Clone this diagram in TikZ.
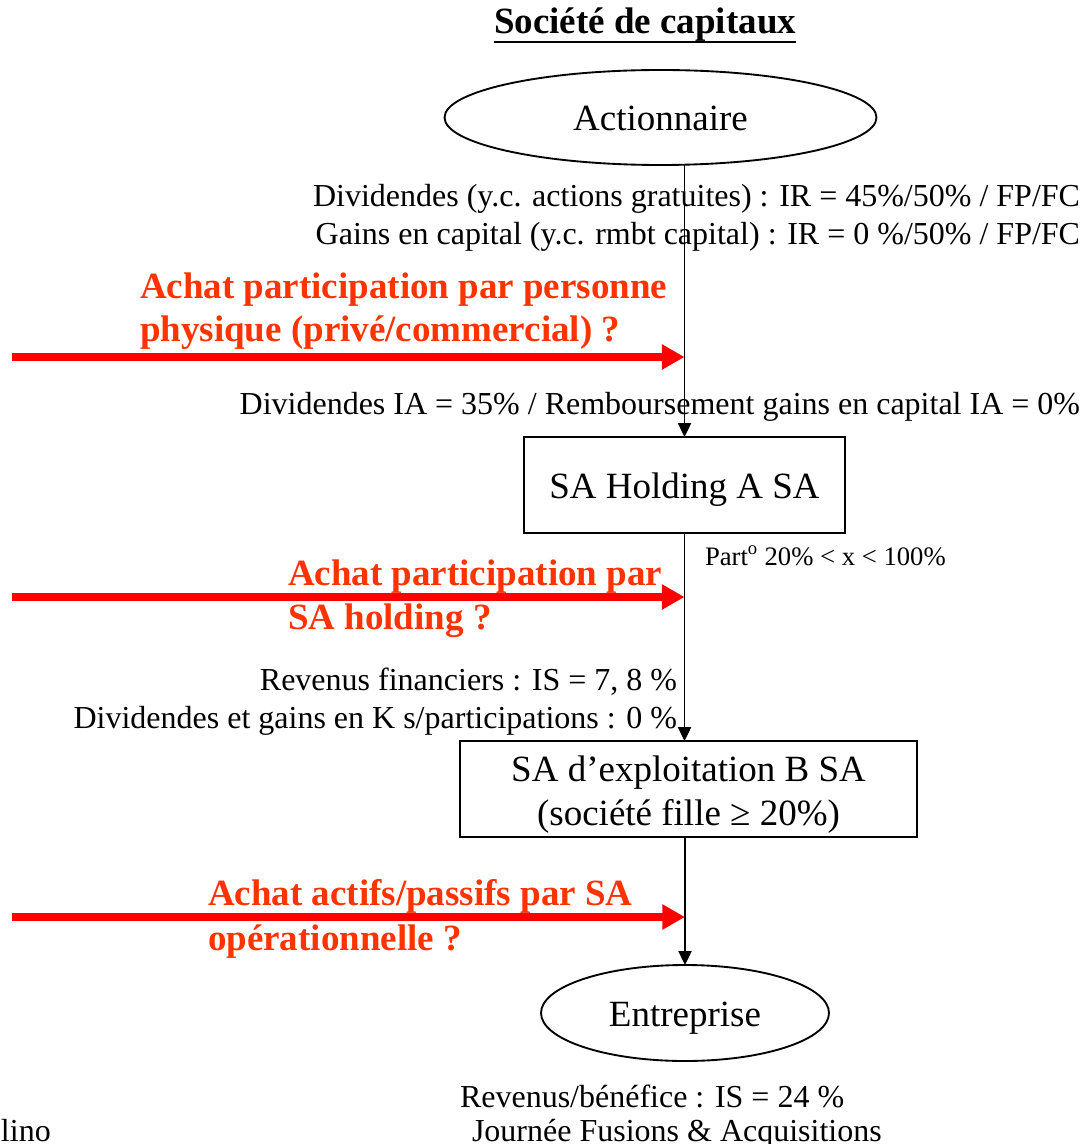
\documentclass[tikz,border=0pt]{standalone}
\usepackage{fontspec}
\setmainfont{Liberation Serif}
\usetikzlibrary{arrows.meta,shapes.geometric}
\definecolor{redtxt}{RGB}{255,51,0}
\definecolor{redarr}{RGB}{255,0,0}
\begin{document}
\begin{tikzpicture}[x=0.75pt,y=-0.75pt,
  every node/.style={inner sep=0pt, outer sep=0pt},
  nodefont/.style={font=\fontsize{27.75}{33}\selectfont},
  annot/.style={font=\fontsize{24}{29}\selectfont},
  small/.style={font=\fontsize{20}{24}\selectfont},
  heading/.style={font=\fontsize{27.75}{33}\selectfont\bfseries},
  question/.style={font=\fontsize{27.75}{33}\selectfont\bfseries, text=redtxt},
  oval/.style={draw, ellipse, line width=1.4pt, nodefont, text height=20pt, text depth=0pt},
  entity/.style={draw, rectangle, line width=1.4pt, nodefont, align=center, text height=20pt, text depth=0pt},
  flow/.style={draw, line width=0.9pt, -{Triangle[length=10.5pt,width=10pt]}},
  buy/.style={draw=redarr, line width=5.3pt, -{Triangle[length=17pt,width=18pt]}},
]
\useasboundingbox (0,0) rectangle (1085,1144);
\clip (0,0) rectangle (1085,1144);

% title
\node[heading, anchor=base west] (title) at (494,34) {Société de capitaux};
\draw[line width=2pt] (title.south west) -- (title.south east);

% entities
\node[oval, minimum width=432*0.75pt, minimum height=95*0.75pt] (act) at (660.5,117.5) {Actionnaire};
\node[entity, minimum width=321*0.75pt, minimum height=96*0.75pt] (hold) at (684.5,485) {SA Holding A SA};
\node[entity, text height=54pt, minimum width=457*0.75pt, minimum height=96*0.75pt] (expl) at (688.5,789) {SA d’exploitation B SA\\(société fille ≥ 20\%)};
\node[oval, minimum width=288*0.75pt, minimum height=96*0.75pt] (ent) at (685,1013) {Entreprise};

% tax annotations
\node[annot, anchor=base east] (divA) at (1080,207) {Dividendes (y.c. actions gratuites) : IR = 45\%/50\% / FP/FC};
\node[annot, anchor=base east] (gainsA) at (1080,245) {Gains en capital (y.c. rmbt capital) : IR = 0 \%/50\% / FP/FC};
\node[annot, anchor=base east] (divH) at (1080,414) {Dividendes IA = 35\% / Remboursement gains en capital IA = 0\%};
\node[small, anchor=base west] (part) at (705,565) {Part\textsuperscript{o} 20\% < x < 100\%};
\node[annot, anchor=base east] (revF) at (677,690) {Revenus financiers : IS = 7, 8 \%};
\node[annot, anchor=base east] (divK) at (677,728) {Dividendes et gains en K s/participations : 0 \%};
\node[annot, anchor=base west] (revB) at (460,1107) {Revenus/bénéfice : IS = 24 \%};

% acquisition questions
\node[question, anchor=base west] (q1a) at (140,299) {Achat participation par personne};
\node[question, anchor=base west] (q1b) at (140,342) {physique (privé/commercial) ?};
\node[question, anchor=base west] (q2a) at (288,585) {Achat participation par};
\node[question, anchor=base west] (q2b) at (288,629) {SA holding ?};
\node[question, anchor=base west] (q3a) at (208,905) {Achat actifs/passifs par SA};
\node[question, anchor=base west] (q3b) at (208,950) {opérationnelle ?};

% footer
\node[annot, anchor=base west] (author) at (1,1141) {lino};
\node[annot, anchor=base west] (event) at (472,1141) {Journée Fusions \& Acquisitions};

% ownership chain
\draw[flow] (hold.north |- act.south) -- (hold.north);
\draw[flow] (hold.south) -- (hold.south |- expl.north);
\draw[flow] (ent.north |- expl.south) -- (ent.north);

% acquisition entry points
\coordinate (b1) at (12,357);
\coordinate (b2) at (12,597);
\coordinate (b3) at (12,917);
\draw[buy] (b1) -- (b1 -| hold.north);
\draw[buy] (b2) -- (b2 -| hold.south);
\draw[buy] (b3) -- (b3 -| ent.north);
\end{tikzpicture}
\end{document}
